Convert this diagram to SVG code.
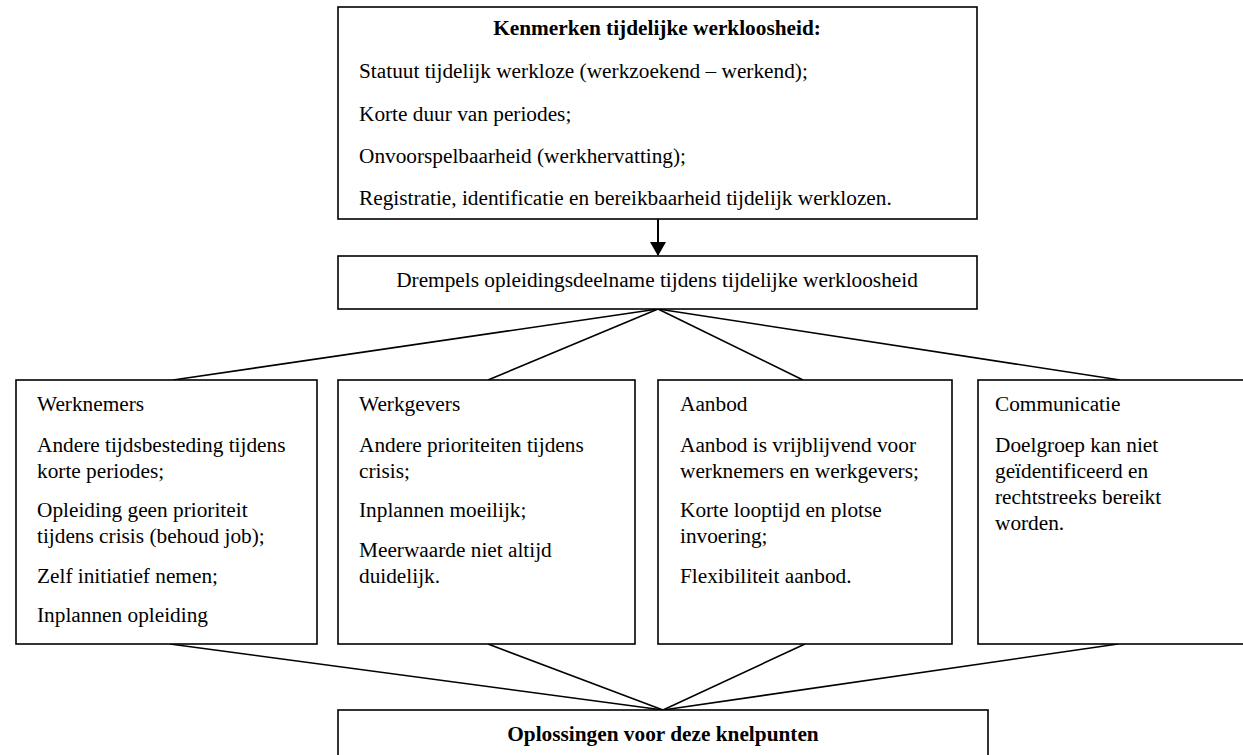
<svg xmlns="http://www.w3.org/2000/svg" width="1243" height="755" viewBox="0 0 1243 755">
<style>
.box{fill:#fff;stroke:#000;stroke-width:1.6}
.t{font-family:"Liberation Serif","Times New Roman",serif;font-size:21.3px;fill:#000}
.b{font-weight:bold}
.c{text-anchor:middle}
.ln{stroke:#000;stroke-width:1.6;fill:none}
</style>
<defs>
<marker id="ah" markerWidth="7" markerHeight="8" refX="6.5" refY="4" orient="auto" markerUnits="strokeWidth">
<path d="M0,0 L7,4 L0,8 Z" fill="#000"/>
</marker>
</defs>
<rect width="1243" height="755" fill="#fff"/>
<g id="connectors">
<line class="ln" x1="658" y1="219" x2="658" y2="255" style="stroke-width:2" marker-end="url(#ah)"/>
<line class="ln" x1="658" y1="309" x2="173" y2="380"/>
<line class="ln" x1="658" y1="309" x2="488" y2="380"/>
<line class="ln" x1="658" y1="309" x2="803" y2="380"/>
<line class="ln" x1="658" y1="309" x2="1120" y2="380"/>
<line class="ln" x1="170" y1="644" x2="663" y2="710"/>
<line class="ln" x1="488" y1="644" x2="663" y2="710"/>
<line class="ln" x1="805" y1="644" x2="663" y2="710"/>
<line class="ln" x1="1118" y1="644" x2="663" y2="710"/>
</g>
<g id="kenmerken">
<rect class="box" x="338" y="7" width="639" height="212"/>
<text class="t b c" x="657" y="35">Kenmerken tijdelijke werkloosheid:</text>
<text class="t" x="359" y="78">Statuut tijdelijk werkloze (werkzoekend – werkend);</text>
<text class="t" x="359" y="121">Korte duur van periodes;</text>
<text class="t" x="359" y="163">Onvoorspelbaarheid (werkhervatting);</text>
<text class="t" x="359" y="205">Registratie, identificatie en bereikbaarheid tijdelijk werklozen.</text>
</g>
<g id="drempels">
<rect class="box" x="338" y="256" width="639" height="53"/>
<text class="t c" x="657" y="287">Drempels opleidingsdeelname tijdens tijdelijke werkloosheid</text>
</g>
<g id="werknemers">
<rect class="box" x="16" y="380" width="301" height="264"/>
<text class="t" x="37" y="411">Werknemers</text>
<text class="t" x="37" y="452">Andere tijdsbesteding tijdens</text>
<text class="t" x="37" y="478">korte periodes;</text>
<text class="t" x="37" y="517">Opleiding geen prioriteit</text>
<text class="t" x="37" y="543">tijdens crisis (behoud job);</text>
<text class="t" x="37" y="583">Zelf initiatief nemen;</text>
<text class="t" x="37" y="622">Inplannen opleiding</text>
</g>
<g id="werkgevers">
<rect class="box" x="338" y="380" width="297" height="264"/>
<text class="t" x="359" y="411">Werkgevers</text>
<text class="t" x="359" y="452">Andere prioriteiten tijdens</text>
<text class="t" x="359" y="478">crisis;</text>
<text class="t" x="359" y="517">Inplannen moeilijk;</text>
<text class="t" x="359" y="557">Meerwaarde niet altijd</text>
<text class="t" x="359" y="583">duidelijk.</text>
</g>
<g id="aanbod">
<rect class="box" x="658" y="380" width="294" height="264"/>
<text class="t" x="680" y="411">Aanbod</text>
<text class="t" x="680" y="452">Aanbod is vrijblijvend voor</text>
<text class="t" x="680" y="478">werknemers en werkgevers;</text>
<text class="t" x="680" y="517">Korte looptijd en plotse</text>
<text class="t" x="680" y="543">invoering;</text>
<text class="t" x="680" y="583">Flexibiliteit aanbod.</text>
</g>
<g id="communicatie">
<rect class="box" x="978" y="380" width="280" height="264"/>
<text class="t" x="995" y="411">Communicatie</text>
<text class="t" x="995" y="452">Doelgroep kan niet</text>
<text class="t" x="995" y="478">geïdentificeerd en</text>
<text class="t" x="995" y="504">rechtstreeks bereikt</text>
<text class="t" x="995" y="530">worden.</text>
</g>
<g id="oplossingen">
<rect class="box" x="338" y="710" width="650" height="60"/>
<text class="t b c" x="663" y="741">Oplossingen voor deze knelpunten</text>
</g>
</svg>
